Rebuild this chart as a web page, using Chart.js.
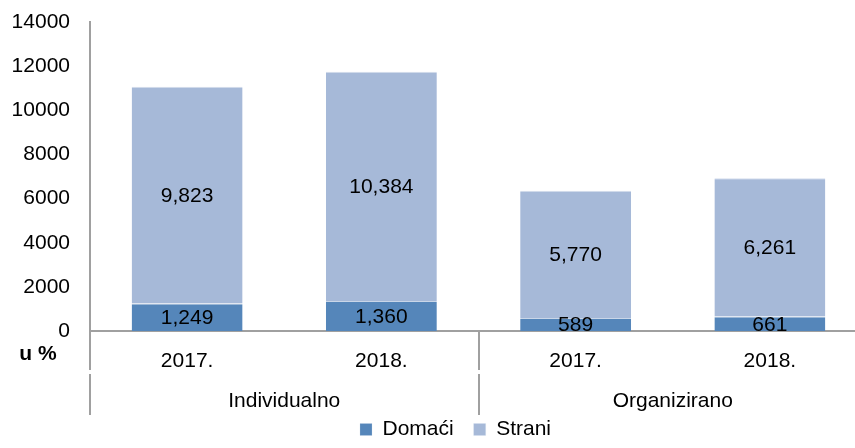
<!DOCTYPE html>
<html>
<head>
<meta charset="utf-8">
<script src="https://cdn.jsdelivr.net/npm/chart.js@4/dist/chart.umd.min.js"></script>
<style>
  html, body { margin: 0; padding: 0; background: #fff; overflow: hidden; }
  #wrap { width: 867px; height: 448px; }
</style>
</head>
<body>
<div id="wrap"><canvas id="chart"></canvas></div>
<script>
// chart values
const years = ['2017.', '2018.', '2017.', '2018.']
const groups = ['Individualno', 'Organizirano']
const domaci = [1249, 1360, 589, 661]
const strani = [9823, 10384, 5770, 6261]
const axisLabel = 'u %'

const FONT = "'Liberation Sans', Arial, sans-serif"
const GREY = '#a0a0a0'

Chart.defaults.font.family = FONT
Chart.defaults.font.size = 21
Chart.defaults.color = '#000'

// numbers in the middle of each segment
const valueLabels = {
  id: 'valueLabels',
  afterDatasetsDraw (chart) {
    const ctx = chart.ctx
    ctx.save()
    ctx.font = '21px ' + FONT
    ctx.fillStyle = '#000'
    ctx.textAlign = 'center'
    ctx.textBaseline = 'middle'
    chart.data.datasets.forEach((ds, i) => {
      chart.getDatasetMeta(i).data.forEach((el, j) => {
        const y = (el.y + el.base) / 2
        ctx.fillText(ds.data[j].toLocaleString('en-US'), el.x, y + 1)
      })
    })
    ctx.restore()
  }
}

// second row of the x axis + separators + "u %"
const groupAxis = {
  id: 'groupAxis',
  afterLayout (chart) {
    // put the legend where the original has it
    const lg = chart.legend
    const h = lg.bottom - lg.top
    lg.left += 44
    lg.top = 448 - h + 2
    lg.bottom = lg.top + h
  },
  afterDraw (chart) {
    const ctx = chart.ctx
    const x = chart.scales.x
    const bottom = chart.chartArea.bottom
    ctx.save()
    ctx.fillStyle = GREY
    const seps = [x.left, (x.getPixelForValue(1) + x.getPixelForValue(2)) / 2, x.right]
    seps.forEach(sx => {
      sx = Math.round(sx) - 1
      ctx.fillRect(sx, bottom, 2, 39)
      ctx.fillRect(sx, bottom + 43, 2, 41)
    })
    ctx.font = '21px ' + FONT
    ctx.fillStyle = '#000'
    ctx.textAlign = 'center'
    ctx.textBaseline = 'middle'
    groups.forEach((g, k) => {
      const cx = (x.getPixelForValue(k * 2) + x.getPixelForValue(k * 2 + 1)) / 2
      ctx.fillText(g, cx, bottom + 70)
    })
    ctx.font = 'bold 21px ' + FONT
    ctx.fillText(axisLabel, 38, bottom + 23)
    ctx.restore()
  }
}

new Chart(document.getElementById('chart'), {
  type: 'bar',
  data: {
    labels: years,
    datasets: [
      {
        label: 'Domaći',
        data: domaci,
        backgroundColor: '#5586ba',
        borderColor: '#c9d6e8',
        borderWidth: { top: 1, left: 0, right: 0, bottom: 0 },
        barPercentage: 0.571,
        categoryPercentage: 1
      },
      {
        label: 'Strani',
        data: strani,
        backgroundColor: '#a6b9d8',
        borderColor: '#d4deed',
        borderWidth: { top: 1, left: 0, right: 0, bottom: 0 },
        barPercentage: 0.571,
        categoryPercentage: 1
      }
    ]
  },
  options: {
    responsive: true,
    maintainAspectRatio: false,
    animation: false,
    layout: { padding: { top: 22, left: 0, right: 0, bottom: 0 } },
    scales: {
      x: {
        stacked: true,
        grid: { display: false, drawTicks: false },
        border: { display: true, color: GREY, width: 2 },
        ticks: { padding: 18, maxRotation: 0, font: { size: 21 } },
        afterFit (s) {
          s.height = 448 - 331 - (s.chart.legend ? s.chart.legend.height : 35)
        }
      },
      y: {
        stacked: true,
        min: 0,
        max: 14000,
        grid: { display: false, drawTicks: false },
        border: { display: true, color: GREY, width: 2 },
        ticks: {
          stepSize: 2000,
          padding: 20,
          font: { size: 21 },
          callback: v => String(v)
        },
        afterFit (s) {
          s.width = 90
          s.paddingTop = 0
          s.paddingBottom = 0
        }
      }
    },
    plugins: {
      legend: {
        position: 'bottom',
        labels: {
          boxWidth: 12,
          boxHeight: 12,
          padding: 20,
          font: { size: 21 }
        }
      },
      tooltip: { enabled: false }
    }
  },
  plugins: [valueLabels, groupAxis]
})
</script>
</body>
</html>
